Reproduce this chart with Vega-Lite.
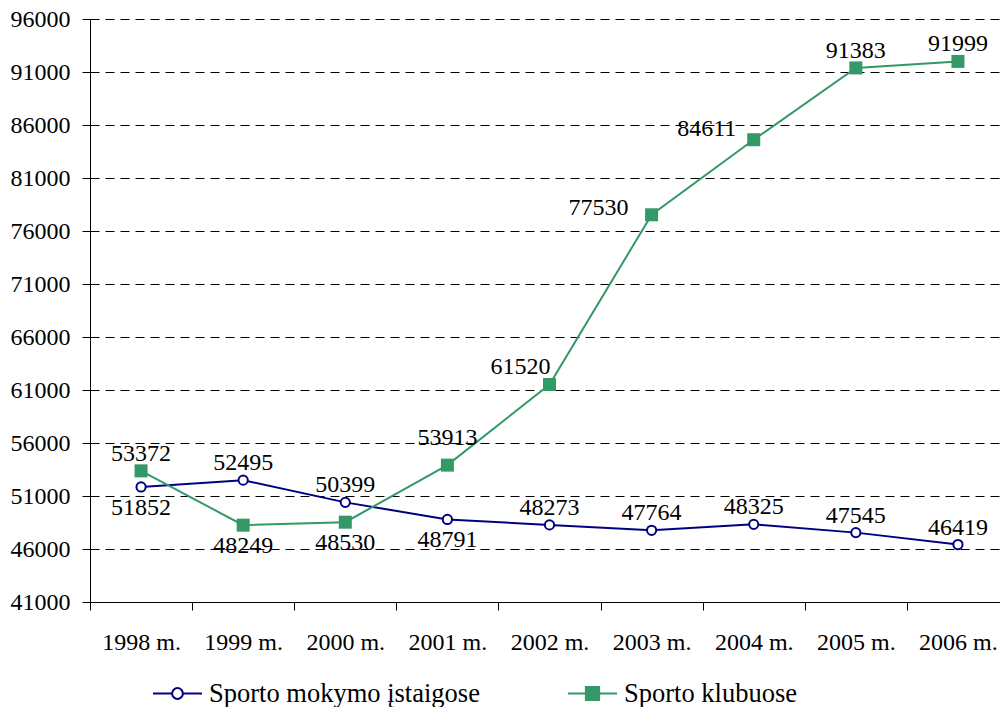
{
  "$schema": "https://vega.github.io/schema/vega-lite/v6.json",
  "autosize": {"type": "none"},
  "width": 919,
  "height": 583,
  "padding": {"left": 90, "top": 19, "right": 0, "bottom": 105},
  "background": "white",
  "config": {
    "view": {"stroke": null},
    "font": "Times New Roman",
    "axis": {"labelFont": "Times New Roman", "labelFontSize": 24, "labelColor": "black", "domainColor": "black", "tickColor": "black", "title": null},
    "text": {"font": "Times New Roman", "fontSize": 24, "color": "black", "baseline": "middle", "align": "center"}
  },
  "data": {
    "values": [
      {"year": "1998 m.", "series": "Sporto mokymo įstaigose", "value": 51852},
      {"year": "1999 m.", "series": "Sporto mokymo įstaigose", "value": 52495},
      {"year": "2000 m.", "series": "Sporto mokymo įstaigose", "value": 50399},
      {"year": "2001 m.", "series": "Sporto mokymo įstaigose", "value": 48791},
      {"year": "2002 m.", "series": "Sporto mokymo įstaigose", "value": 48273},
      {"year": "2003 m.", "series": "Sporto mokymo įstaigose", "value": 47764},
      {"year": "2004 m.", "series": "Sporto mokymo įstaigose", "value": 48325},
      {"year": "2005 m.", "series": "Sporto mokymo įstaigose", "value": 47545},
      {"year": "2006 m.", "series": "Sporto mokymo įstaigose", "value": 46419},
      {"year": "1998 m.", "series": "Sporto klubuose", "value": 53372},
      {"year": "1999 m.", "series": "Sporto klubuose", "value": 48249},
      {"year": "2000 m.", "series": "Sporto klubuose", "value": 48530},
      {"year": "2001 m.", "series": "Sporto klubuose", "value": 53913},
      {"year": "2002 m.", "series": "Sporto klubuose", "value": 61520},
      {"year": "2003 m.", "series": "Sporto klubuose", "value": 77530},
      {"year": "2004 m.", "series": "Sporto klubuose", "value": 84611},
      {"year": "2005 m.", "series": "Sporto klubuose", "value": 91383},
      {"year": "2006 m.", "series": "Sporto klubuose", "value": 91999}
    ]
  },
  "encoding": {
    "x": {
      "field": "year", "type": "ordinal",
      "scale": {"type": "band", "paddingInner": 0, "paddingOuter": 0},
      "axis": {"labelAngle": 0, "tickBand": "extent", "tickSize": 8, "labelPadding": 20, "domainWidth": 1, "grid": false}
    },
    "y": {
      "field": "value", "type": "quantitative",
      "scale": {"domain": [41000, 96000], "nice": false, "zero": false},
      "axis": {"values": [41000, 46000, 51000, 56000, 61000, 66000, 71000, 76000, 81000, 86000, 91000, 96000], "format": "d", "tickSize": 8, "labelPadding": 12, "grid": true, "gridColor": "black", "gridDash": [9, 6], "gridWidth": 1, "gridOpacity": 1}
    }
  },
  "layer": [
    {
      "mark": {"type": "line", "strokeWidth": 2},
      "encoding": {
        "color": {
          "field": "series", "type": "nominal",
          "scale": {"domain": ["Sporto mokymo įstaigose", "Sporto klubuose"], "range": ["#000080", "#339966"]},
          "legend": {
            "title": null, "orient": "none", "direction": "horizontal", "columns": 2,
            "legendX": 62, "legendY": 649, "padding": 0,
            "columnPadding": 84, "labelOffset": 6, "labelLimit": 400,
            "labelFont": "Times New Roman", "labelFontSize": 26.5, "labelColor": "black",
            "symbolSize": 2400, "symbolStrokeWidth": 2,
            "encode": {
              "symbols": {
                "update": {
                  "shape": {"signal": "datum.value == 'Sporto klubuose' ? 'M-1,0H1M-0.27,-0.27H0.27V0.27H-0.27Z' : 'M-1,0H-0.22M0.22,0H1M-0.22,0A0.22,0.22 0 1,0 0.22,0A0.22,0.22 0 1,0 -0.22,0Z'"},
                  "fill": {"signal": "datum.value == 'Sporto klubuose' ? '#339966' : 'white'"},
                  "stroke": {"signal": "datum.value == 'Sporto klubuose' ? '#339966' : '#000080'"},
                  "strokeWidth": {"value": 2},
                  "opacity": {"value": 1},
                  "fillOpacity": {"value": 1},
                  "strokeOpacity": {"value": 1}
                }
              }
            }
          }
        }
      }
    },
    {
      "transform": [{"filter": "datum.series == 'Sporto mokymo įstaigose'"}],
      "mark": {"type": "point", "shape": "circle", "filled": true, "fill": "white", "stroke": "#000080", "strokeWidth": 2, "size": 85, "opacity": 1}
    },
    {
      "transform": [{"filter": "datum.series == 'Sporto klubuose'"}],
      "mark": {"type": "point", "shape": "square", "filled": true, "color": "#339966", "size": 169, "opacity": 1}
    },
    {
      "transform": [{"filter": "(datum.series == 'Sporto mokymo įstaigose' && indexof(['1999 m.','2000 m.','2002 m.','2003 m.','2004 m.','2005 m.','2006 m.'], datum.year) >= 0) || (datum.series == 'Sporto klubuose' && indexof(['1998 m.','2005 m.','2006 m.'], datum.year) >= 0)"}],
      "mark": {"type": "text", "dy": -17},
      "encoding": {"text": {"field": "value", "type": "quantitative", "format": "d"}}
    },
    {
      "transform": [{"filter": "(datum.series == 'Sporto mokymo įstaigose' && indexof(['1998 m.','2001 m.'], datum.year) >= 0) || (datum.series == 'Sporto klubuose' && indexof(['1999 m.','2000 m.'], datum.year) >= 0)"}],
      "mark": {"type": "text", "dy": 21},
      "encoding": {"text": {"field": "value", "type": "quantitative", "format": "d"}}
    },
    {
      "transform": [{"filter": "datum.series == 'Sporto klubuose' && datum.year == '2001 m.'"}],
      "mark": {"type": "text", "dy": -27},
      "encoding": {"text": {"field": "value", "type": "quantitative", "format": "d"}}
    },
    {
      "transform": [{"filter": "datum.series == 'Sporto klubuose' && datum.year == '2002 m.'"}],
      "mark": {"type": "text", "dx": -29, "dy": -17},
      "encoding": {"text": {"field": "value", "type": "quantitative", "format": "d"}}
    },
    {
      "transform": [{"filter": "datum.series == 'Sporto klubuose' && datum.year == '2003 m.'"}],
      "mark": {"type": "text", "dx": -53, "dy": -7},
      "encoding": {"text": {"field": "value", "type": "quantitative", "format": "d"}}
    },
    {
      "transform": [{"filter": "datum.series == 'Sporto klubuose' && datum.year == '2004 m.'"}],
      "mark": {"type": "text", "dx": -47, "dy": -11},
      "encoding": {"text": {"field": "value", "type": "quantitative", "format": "d"}}
    }
  ]
}
